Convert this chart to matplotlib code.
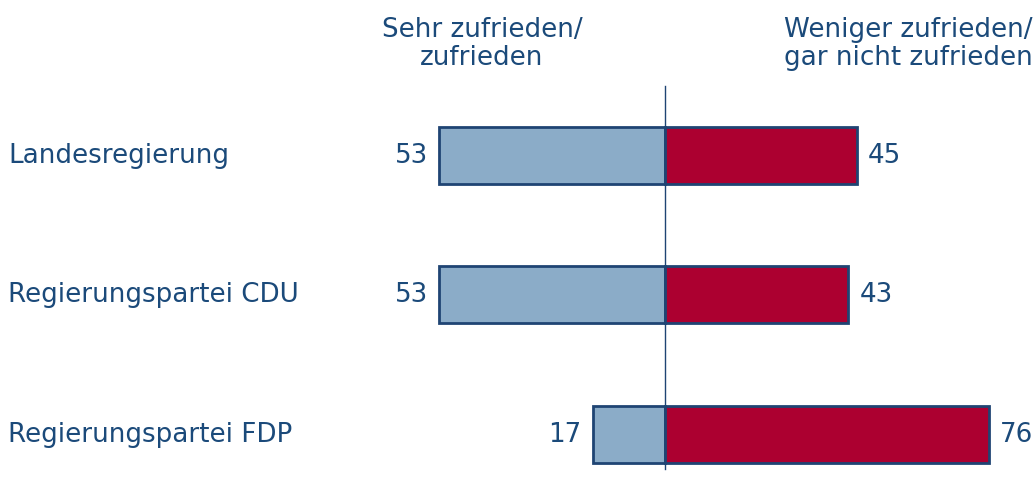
import matplotlib
matplotlib.use("Agg")
import matplotlib.pyplot as plt
import matplotlib.transforms as mtransforms

categories = ["Landesregierung", "Regierungspartei CDU", "Regierungspartei FDP"]
satisfied = [53, 53, 17]
dissatisfied = [45, 43, 76]
header_left = "Sehr zufrieden/\nzufrieden"
header_right = "Weniger zufrieden/\ngar nicht zufrieden"

TEXT = "#1B4A7A"
EDGE = "#1F4473"
BLUE = "#8BACC8"
RED = "#AC0030"
FS = 18.8

W, H = 1036, 502
fig = plt.figure(figsize=(W / 100, H / 100), dpi=100)
ax = fig.add_axes([0, 0, 1, 1])

px_per_unit = 4.26
x0 = 665
ax.set_xlim(-x0 / px_per_unit, (W - x0) / px_per_unit)
row_top, row_step = 156, 139.5
ax.set_ylim((H - row_top) / row_step, -row_top / row_step)
ax.axis("off")

ypos = list(range(len(categories)))
bh = 57 / row_step
ax.barh(ypos, [-v for v in satisfied], height=bh, color=BLUE,
        edgecolor=EDGE, linewidth=2, zorder=2)
ax.barh(ypos, dissatisfied, height=bh, color=RED,
        edgecolor=EDGE, linewidth=2, zorder=2)

ax.plot([0, 0], [(87 - row_top) / row_step, (470 - row_top) / row_step],
        color=EDGE, linewidth=1, zorder=3)

pad = 2.6
trans = mtransforms.blended_transform_factory(ax.transAxes, ax.transData)
for y, s, d, cat in zip(ypos, satisfied, dissatisfied, categories):
    ax.text(-s - pad, y, str(s), ha="right", va="center", fontsize=FS, color=TEXT)
    ax.text(d + pad, y, str(d), ha="left", va="center", fontsize=FS, color=TEXT)
    ax.text(8 / W, y, cat, ha="left", va="center", fontsize=FS, color=TEXT,
            transform=trans)

fig.text(482 / W, 1 - 44 / H, header_left, ha="center", va="center",
         fontsize=FS, color=TEXT, linespacing=1.13)
fig.text(908 / W, 1 - 44 / H, header_right, ha="center", va="center",
         fontsize=FS, color=TEXT, linespacing=1.13)

fig.savefig("out.png", dpi=100)
